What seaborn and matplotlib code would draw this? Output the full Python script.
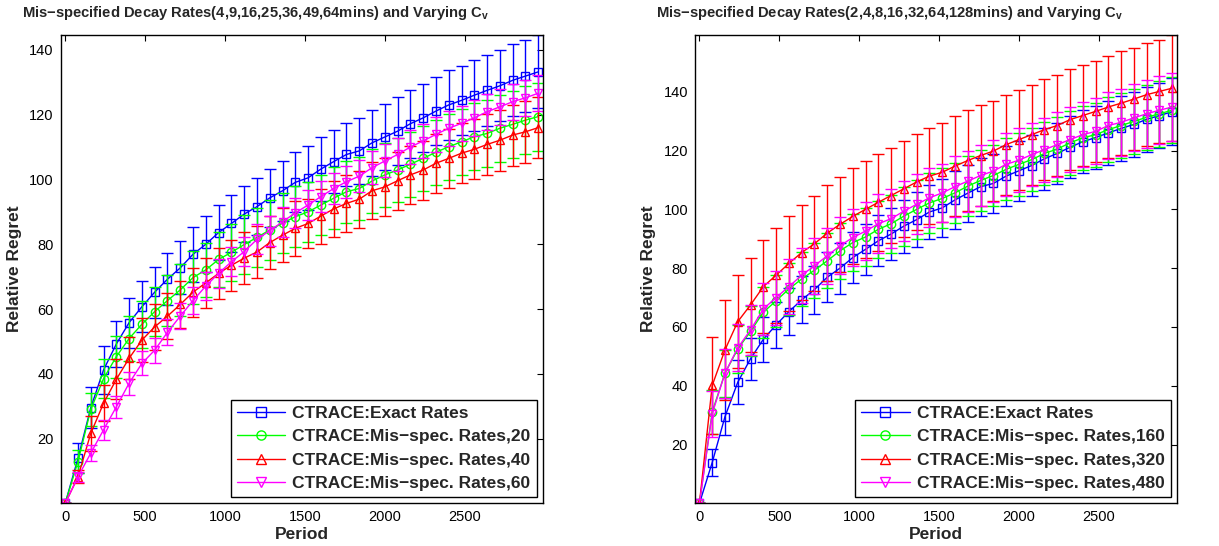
import numpy as np
import pandas as pd
import seaborn as sns
import matplotlib as mpl
import matplotlib.pyplot as plt

mpl.use('Agg')

sns.set_style('white')
plt.rcParams['font.family'] = ['Liberation Sans', 'DejaVu Sans']
plt.rcParams['axes.unicode_minus'] = False

# periods (every 80 steps)
period = list(range(0, 2961, 80))

# exact rates, same run in both panels
exact = [0, 13.9, 29.5, 41.2, 49.2, 55.8, 60.7, 65.2, 69.2, 72.7, 76.9, 80.0, 83.6, 86.4, 89.3,
         91.6, 94.3, 96.5, 99.1, 100.5, 103.2, 105.5, 107.7, 108.8, 111.3, 113.1, 114.9, 117.2,
         119.0, 121.1, 123.0, 124.4, 126.0, 127.5, 128.9, 130.6, 131.9, 133.2]
exact_err = [0, 4.6, 6.3, 7.4, 7.2, 7.7, 7.9, 7.9, 8.0, 8.2, 8.5, 8.7, 8.6, 8.7, 8.7, 8.7, 9.0,
             9.3, 9.3, 9.9, 9.9, 9.7, 9.8, 10.1, 10.1, 10.3, 10.5, 10.5, 10.4, 10.5, 10.7, 10.7,
             10.9, 10.9, 11.0, 11.1, 11.2, 11.3]

# left panel: decay rates 4..64 mins
left_20 = [0, 12.9, 29.0, 38.5, 45.3, 50.9, 55.3, 59.2, 62.6, 65.9, 69.7, 72.1, 75.3, 77.5, 79.9,
           82.1, 84.4, 86.5, 88.5, 90.0, 92.1, 94.2, 96.2, 97.2, 99.5, 101.4, 102.9, 104.7, 106.5,
           108.4, 110.1, 111.6, 113.2, 114.2, 115.8, 117.0, 118.3, 119.4]
left_20_err = [0, 3.5, 5.0, 6.0, 6.5, 7.0, 7.3, 7.5, 7.8, 8.0, 8.2, 8.4, 8.6, 8.8, 9.0, 9.1, 9.2,
               9.3, 9.4, 9.2, 9.4, 9.5, 9.6, 9.7, 9.8, 9.9, 10.0, 10.0, 10.1, 10.1, 10.2, 10.2,
               10.3, 10.3, 10.4, 10.4, 10.5, 10.5]
left_40 = [0, 8.2, 21.6, 30.9, 38.3, 44.8, 50.4, 54.5, 57.8, 61.4, 65.2, 68.1, 71.0, 73.5, 75.7,
           77.6, 80.5, 82.8, 84.9, 86.4, 88.7, 90.9, 92.6, 93.9, 96.5, 97.7, 99.6, 101.4, 102.9,
           105.0, 106.5, 108.1, 109.3, 110.8, 112.1, 113.7, 114.7, 116.0]
left_40_err = [0, 2.0, 5.5, 5.5, 6.2, 6.5, 6.8, 7.0, 7.2, 7.4, 7.6, 7.7, 7.8, 7.9, 8.0, 8.1, 8.2,
               8.3, 8.4, 7.5, 8.5, 8.6, 8.7, 8.8, 8.8, 8.9, 9.0, 9.0, 9.1, 9.1, 9.2, 9.2, 9.3,
               9.3, 9.4, 9.4, 9.5, 9.5]
left_60 = [0, 8.2, 15.5, 22.7, 29.8, 37.1, 43.2, 47.3, 52.8, 57.8, 62.6, 67.1, 71.0, 74.6, 77.7,
           81.5, 84.2, 86.9, 89.7, 92.1, 94.7, 97.2, 99.3, 101.0, 103.6, 105.7, 107.7, 110.0,
           111.9, 113.9, 115.8, 117.3, 119.0, 120.9, 122.4, 124.0, 125.2, 126.6]
left_60_err = [0, 1.5, 2.5, 3.0, 3.3, 3.5, 3.7, 3.9, 4.0, 4.1, 4.2, 4.3, 4.4, 4.5, 4.5, 4.6, 4.6,
               4.7, 4.7, 4.6, 4.8, 4.9, 5.0, 5.0, 5.1, 5.1, 5.2, 5.2, 5.3, 5.3, 5.4, 5.4, 5.5,
               5.5, 5.5, 5.6, 5.6, 5.6]

# right panel: decay rates 2..128 mins
right_160 = [0, 31.1, 44.3, 52.5, 58.5, 65.0, 68.9, 72.9, 76.3, 79.3, 82.5, 85.9, 88.7, 90.6,
             93.2, 95.1, 97.7, 100.0, 102.2, 103.7, 105.6, 107.9, 109.8, 111.5, 113.6, 115.3,
             116.9, 119.0, 120.5, 122.6, 124.3, 125.4, 127.1, 128.5, 129.9, 131.3, 132.5, 133.7]
right_160_err = [0, 7.5, 8.0, 8.3, 8.5, 8.7, 8.9, 9.0, 9.2, 9.3, 9.4, 9.5, 9.6, 9.7, 9.8, 9.9,
                 10.0, 10.0, 10.1, 10.2, 10.2, 10.3, 10.4, 10.4, 10.5, 10.6, 10.6, 10.7, 10.8,
                 10.8, 10.9, 10.9, 11.0, 11.0, 11.1, 11.1, 11.2, 11.2]
right_320 = [0, 40.1, 52.2, 61.8, 67.5, 73.7, 77.6, 81.6, 85.3, 88.3, 91.9, 94.9, 97.6, 100.0,
             102.4, 104.7, 107.0, 109.3, 111.3, 112.6, 114.7, 116.6, 118.3, 119.8, 122.0, 123.7,
             125.4, 127.1, 128.5, 130.5, 131.9, 133.3, 134.8, 136.1, 137.5, 139.0, 140.1, 141.2]
right_320_err = [0, 16.4, 17.0, 15.8, 16.1, 15.9, 16.2, 16.2, 16.1, 16.1, 16.3, 16.1, 16.3, 16.6,
                 16.4, 16.2, 16.4, 16.3, 16.4, 16.8, 16.9, 17.1, 17.3, 16.9, 17.0, 17.0, 17.0,
                 17.2, 17.3, 17.2, 17.3, 17.2, 17.2, 17.6, 17.3, 17.5, 17.5, 18.0]
right_480 = [0, 30.5, 44.3, 52.9, 59.0, 66.1, 70.0, 73.7, 77.6, 80.8, 84.2, 87.6, 90.4, 92.6,
             95.1, 96.8, 99.4, 101.7, 103.9, 105.6, 107.7, 109.6, 111.5, 113.0, 115.3, 116.7,
             118.6, 120.3, 122.0, 123.7, 125.4, 126.5, 128.5, 129.6, 131.1, 132.5, 133.7, 134.8]
right_480_err = [0, 7.8, 8.3, 8.0, 8.6, 8.8, 9.2, 9.3, 9.4, 9.5, 9.6, 9.7, 9.8, 9.9, 10.0, 10.0,
                 10.1, 10.2, 10.0, 9.9, 10.3, 10.4, 10.5, 10.6, 10.7, 10.8, 10.8, 10.9, 11.0,
                 11.0, 11.1, 11.2, 11.3, 11.3, 11.4, 11.5, 11.5, 11.6]

colors = ['#0000ff', '#00ff00', '#ff0000', '#ff00ff']
markers = ['s', 'o', '^', 'v']

panels = [
    {'title': 'Mis\u2212specified Decay Rates(4,9,16,25,36,49,64mins) and Varying C$_\\mathregular{v}$',
     'series': [exact, left_20, left_40, left_60],
     'errors': [exact_err, left_20_err, left_40_err, left_60_err],
     'labels': ['CTRACE:Exact Rates', 'CTRACE:Mis\u2212spec. Rates,20',
                'CTRACE:Mis\u2212spec. Rates,40', 'CTRACE:Mis\u2212spec. Rates,60'],
     'ylim': (0, 144.6), 'pos': [0.0498, 0.078, 0.3954, 0.858]},
    {'title': 'Mis\u2212specified Decay Rates(2,4,8,16,32,64,128mins) and Varying C$_\\mathregular{v}$',
     'series': [exact, right_160, right_320, right_480],
     'errors': [exact_err, right_160_err, right_320_err, right_480_err],
     'labels': ['CTRACE:Exact Rates', 'CTRACE:Mis\u2212spec. Rates,160',
                'CTRACE:Mis\u2212spec. Rates,320', 'CTRACE:Mis\u2212spec. Rates,480'],
     'ylim': (0, 159.3), 'pos': [0.5701, 0.078, 0.3952, 0.858]},
]

fig = plt.figure(figsize=(12.19, 5.46), dpi=100)

for p in panels:
    ax = fig.add_axes(p['pos'])
    for vals, err, lab, c, m in zip(p['series'], p['errors'], p['labels'], colors, markers):
        df = pd.DataFrame({'Period': period, 'Regret': vals, 'err': err})
        ax.errorbar(df['Period'], df['Regret'], yerr=df['err'], fmt='none', ecolor=c,
                    elinewidth=1.0, capsize=4.5, capthick=1.0)
        sns.lineplot(data=df, x='Period', y='Regret', color=c, marker=m, markersize=6,
                     markerfacecolor='none', markeredgecolor=c, markeredgewidth=1.0,
                     linewidth=1.0, label=lab, ax=ax)
    ax.set_xlim(-28, 2988)
    ax.set_ylim(*p['ylim'])
    ax.set_xticks([0, 500, 1000, 1500, 2000, 2500])
    ax.set_yticks([20, 40, 60, 80, 100, 120, 140])
    ax.tick_params(direction='in', length=4, width=0.8, top=True, right=True,
                   labelsize=10.5, colors='black', pad=5)
    for s in ax.spines.values():
        s.set_color('black')
        s.set_linewidth(1.0)
    ax.set_xlabel('Period', fontsize=12.5, fontweight='bold', labelpad=2)
    ax.set_ylabel('Relative Regret', fontsize=12.5, fontweight='bold', labelpad=5)
    ax.text(0.405, 1.038, p['title'], transform=ax.transAxes, ha='center', va='baseline',
            fontsize=10.6, fontweight='bold')
    leg = ax.legend(loc='lower right', prop={'weight': 'bold', 'size': 12.5},
                    frameon=True, fancybox=False, framealpha=1, edgecolor='black',
                    handlelength=2.8, borderaxespad=0.35, labelspacing=0.48, borderpad=0.35,
                    handletextpad=0.4, markerscale=1.1)
    leg.get_frame().set_linewidth(1.0)

plt.savefig('out.png', dpi=100)
